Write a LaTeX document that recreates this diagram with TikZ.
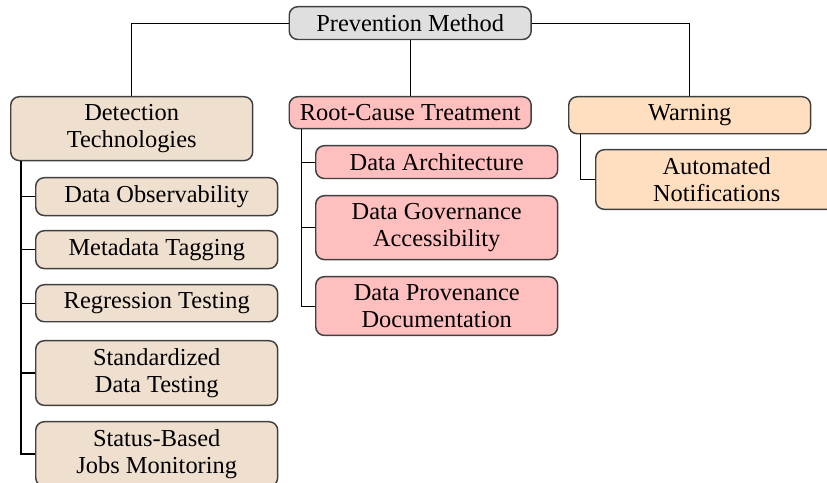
\documentclass[tikz,border=0pt]{standalone}
\usepackage{fontspec}
\setmainfont{Liberation Serif}
\begin{document}
\begin{tikzpicture}[x=0.41pt,y=-0.41pt,
  box/.style={draw=black!75,line width=0.6pt,rounded corners=3.5pt,minimum width=99.2pt,align=center,anchor=north west,font=\fontsize{10}{11}\selectfont,inner sep=3.2pt},
  topbox/.style={box,fill=gray!25},
  detbox/.style={box,fill=brown!25},
  rcbox/.style={box,fill=red!25},
  wbox/.style={box,fill=orange!25},
  link/.style={draw=black,line width=0.45pt}]
\useasboundingbox (0,0) rectangle (827,483);
\node[topbox] (pm) at (288.5,6) {Prevention Method};
\node[detbox] (det) at (10,96) {Detection\\Technologies};
\node[detbox] (c1) at (35,177) {Data Observability};
\node[detbox] (c2) at (35,230) {Metadata Tagging};
\node[detbox] (c3) at (35,284) {Regression Testing};
\node[detbox] (c4) at (35,340) {Standardized\\Data Testing};
\node[detbox] (c5) at (35,421) {Status-Based\\Jobs Monitoring};
\node[rcbox] (rc) at (288.5,96) {Root-Cause Treatment};
\node[rcbox] (r1) at (315,145) {Data Architecture};
\node[rcbox] (r2) at (315,195) {Data Governance\\Accessibility};
\node[rcbox] (r3) at (315,276) {Data Provenance\\Documentation};
\node[wbox] (w) at (568,96) {Warning};
\node[wbox] (w1) at (595,149) {Automated\\Notifications};
\draw[link] (pm.west) -| (det.north);
\draw[link] (pm.east) -| (w.north);
\draw[link] (pm.south) -- (rc.north);
\draw[link] ([xshift=4.5pt]det.south west) |- (c5.west);
\foreach \c in {c1,c2,c3,c4} \draw[link] ([xshift=4.5pt]det.south west |- \c.west) -- (\c.west);
\draw[link] ([xshift=5.3pt]rc.south west) |- (r3.west);
\foreach \c in {r1,r2} \draw[link] ([xshift=5.3pt]rc.south west |- \c.west) -- (\c.west);
\draw[link] ([xshift=5pt]w.south west) |- (w1.west);
\end{tikzpicture}
\end{document}
